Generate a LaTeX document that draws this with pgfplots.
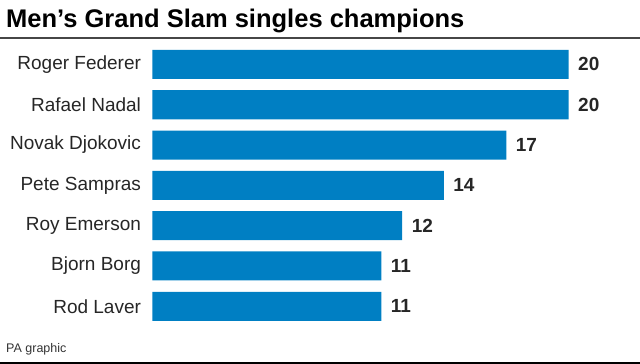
\documentclass[border=0pt]{standalone}
\usepackage{pgfplots}
\pgfplotsset{compat=1.18}
\usepackage{fontspec}
\setmainfont{Liberation Sans}
\definecolor{barblue}{RGB}{0,127,195}
\definecolor{rulegray}{RGB}{70,70,70}
\begin{document}
\begin{tikzpicture}[x=1pt,y=1pt]
\path[use as bounding box] (0,0) rectangle (640,364);
\node[anchor=base west,inner sep=0,font=\bfseries\fontsize{25.5}{28}\selectfont] at (6,336) {Men’s Grand Slam singles champions};
\draw[rulegray,line width=1.6pt] (0,326) -- (640,326);
\begin{axis}[
  at={(152.5pt,319.7pt)}, anchor=north west,
  scale only axis, width=416.2pt, height=282.1pt,
  xbar, bar width=29pt,
  xmin=0, xmax=20, ymin=-0.5, ymax=6.5, y dir=reverse,
  axis line style={draw=none}, hide x axis,
  ytick={0,1,2,3,4,5,6},
  yticklabels={Roger Federer,Rafael Nadal,Novak Djokovic,Pete Sampras,Roy Emerson,Bjorn Borg,Rod Laver},
  yticklabel style={font=\fontsize{19}{22}\selectfont, text=black!85, xshift=-8pt},
  major tick length=0pt,
  nodes near coords,
  nodes near coords style={font=\bfseries\fontsize{19}{22}\selectfont, anchor=west, xshift=6pt, text=black!85},
  /pgf/number format/assume math mode=true,
  clip=false,
]
\addplot[fill=barblue, draw=none] coordinates {(20,0) (20,1) (17,2) (14,3) (12,4) (11,5) (11,6)};
\end{axis}
\node[anchor=base west,inner sep=0,font=\fontsize{12.5}{14}\selectfont, text=black!80] at (6,11) {PA graphic};
\draw[black,line width=2pt] (0,1) -- (640,1);
\end{tikzpicture}
\end{document}
